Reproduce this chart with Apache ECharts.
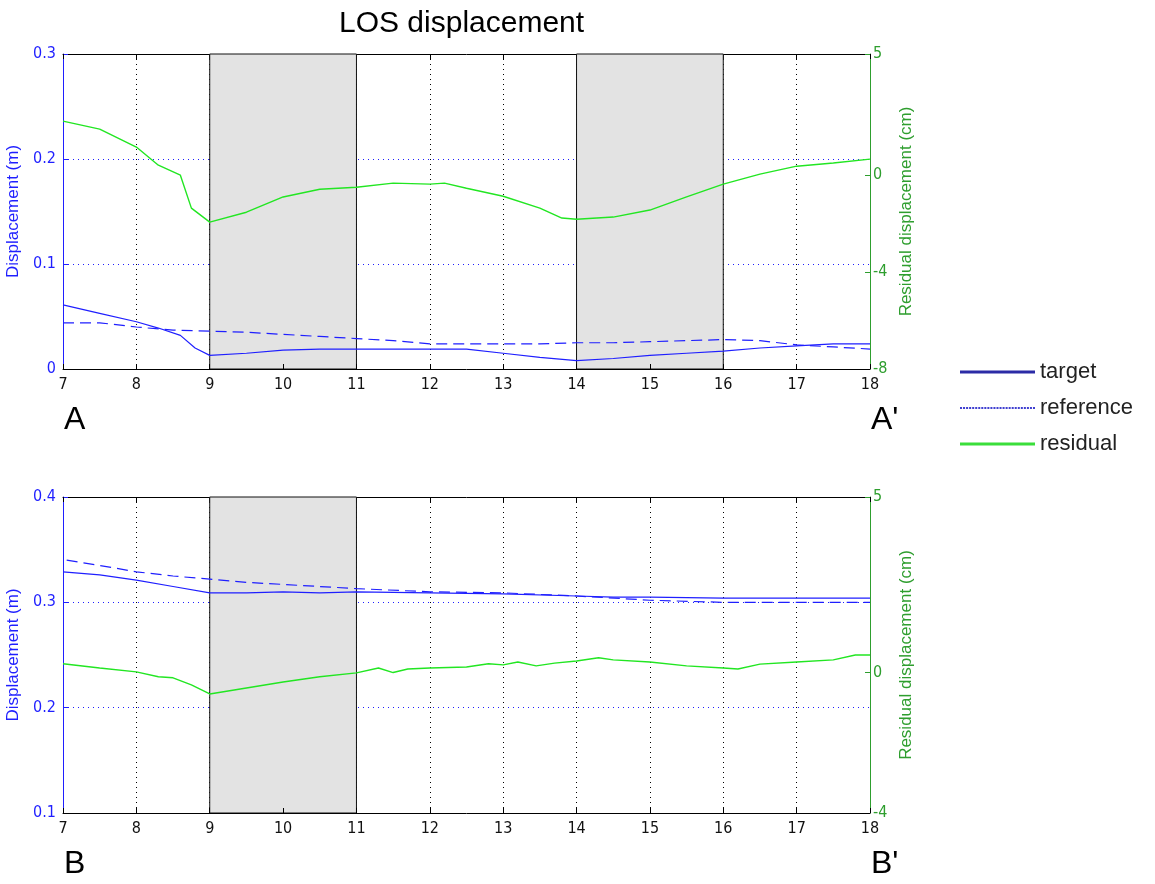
<!DOCTYPE html>
<html>
<head>
<meta charset="utf-8">
<script src="https://cdn.jsdelivr.net/npm/echarts@6/dist/echarts.min.js"></script>
<style>
  html, body { margin: 0; padding: 0; background: #fff; }
  #chart { width: 1155px; height: 884px; }
</style>
</head>
<body>
<div id="chart"></div>
<script>
// top profile A-A'
const topTargetX = [7, 7.5, 8, 8.3, 8.6, 8.8, 9, 9.5, 10, 10.5, 11, 12, 12.5, 13, 13.5, 14, 14.5, 15, 15.5, 16, 16.5, 17, 17.5, 18];
const topTarget = [0.061, 0.053, 0.045, 0.039, 0.032, 0.020, 0.013, 0.015, 0.018, 0.019, 0.019, 0.019, 0.019, 0.015, 0.011, 0.008, 0.010, 0.013, 0.015, 0.017, 0.020, 0.022, 0.024, 0.024];
const topRefX = [7, 7.5, 8, 8.5, 9, 9.5, 10, 10.5, 11, 11.5, 12, 12.5, 13, 13.5, 14, 14.5, 15, 15.5, 16, 16.5, 17, 17.5, 18];
const topRef = [0.044, 0.044, 0.040, 0.037, 0.036, 0.035, 0.033, 0.031, 0.029, 0.027, 0.024, 0.024, 0.024, 0.024, 0.025, 0.025, 0.026, 0.027, 0.028, 0.027, 0.023, 0.021, 0.019];
const topResX = [7, 7.5, 8, 8.3, 8.6, 8.75, 9, 9.5, 10, 10.5, 11, 11.5, 12, 12.2, 12.5, 13, 13.5, 13.8, 14, 14.5, 15, 15.5, 16, 16.5, 17, 17.5, 18];
const topRes = [2.23, 1.9, 1.16, 0.41, 0.0, -1.36, -1.94, -1.53, -0.9, -0.58, -0.5, -0.33, -0.37, -0.33, -0.54, -0.87, -1.36, -1.77, -1.82, -1.73, -1.44, -0.9, -0.37, 0.04, 0.37, 0.5, 0.66];

// bottom profile B-B'
const botTargetX = [7, 7.5, 8, 8.5, 9, 9.5, 10, 10.5, 11, 12, 13, 14, 14.5, 15, 16, 17, 18];
const botTarget = [0.329, 0.326, 0.321, 0.315, 0.309, 0.309, 0.310, 0.309, 0.310, 0.309, 0.308, 0.306, 0.305, 0.305, 0.304, 0.304, 0.304];
const botRefX = [7.05, 7.5, 8, 8.5, 9, 9.5, 10, 10.5, 11, 12, 13, 14, 15, 16, 17, 18];
const botRef = [0.340, 0.335, 0.329, 0.325, 0.322, 0.319, 0.317, 0.315, 0.313, 0.310, 0.309, 0.306, 0.302, 0.300, 0.300, 0.300];
const botResX = [7, 7.5, 8, 8.3, 8.5, 8.75, 9, 9.5, 10, 10.5, 11, 11.3, 11.5, 11.7, 12, 12.5, 12.8, 13, 13.2, 13.45, 13.7, 14, 14.3, 14.5, 15, 15.5, 16, 16.2, 16.5, 17, 17.5, 17.8, 18];
const botRes = [0.25, 0.13, 0.02, -0.12, -0.15, -0.35, -0.61, -0.44, -0.27, -0.12, -0.01, 0.13, 0.0, 0.1, 0.13, 0.16, 0.25, 0.22, 0.3, 0.19, 0.27, 0.33, 0.42, 0.36, 0.30, 0.19, 0.13, 0.1, 0.24, 0.3, 0.36, 0.5, 0.5];

// shaded intervals
const topBands = [[9, 11], [14, 16]];
const botBands = [[9, 11]];

const topRightTicks = [-8, -4, 0, 5];
const botRightTicks = [-4, 0, 5];

const BLUE = "#1f1fff";
const GREEN = "#22e622";
const AXGREEN = "#2e9e2e";
const NARROW = "'Liberation Sans Narrow', 'DejaVu Sans Condensed', 'Liberation Sans', Arial, sans-serif";
const SANS = "'Liberation Sans', Arial, sans-serif";

const zip = (xs, ys) => xs.map((x, i) => [x, ys[i]]);

// dotted legend stroke for "reference"
let dotPath = "path://";
for (let i = 0; i < 75; i += 3) dotPath += "M" + i + ",0h2v2h-2z";

function xAxes(grid) {
  return [
    {
      gridIndex: grid, type: "value", position: "bottom", min: 7, max: 18, interval: 1, z: 3,
      axisLine: { show: true, onZero: false, lineStyle: { color: "#000", width: 1 } },
      axisTick: { show: true, inside: true, length: 5, lineStyle: { color: "#000" } },
      axisLabel: { color: "#111", fontFamily: NARROW, fontSize: 16, margin: 8 },
      splitLine: { show: false },
    },
    {
      gridIndex: grid, type: "value", position: "top", min: 7, max: 18, interval: 1, z: 0,
      axisLine: { show: true, onZero: false, lineStyle: { color: "#000", width: 1 } },
      axisTick: { show: true, inside: true, length: 5, lineStyle: { color: "#000" } },
      axisLabel: { show: false },
      splitLine: { show: true, lineStyle: { color: "#000", type: [1, 4], width: 1 } },
    },
  ];
}

function yAxes(grid, min, max, rmin, rmax, rticks) {
  return [
    {
      gridIndex: grid, type: "value", position: "left", min: min, max: max, interval: 0.1,
      name: "Displacement (m)", nameLocation: "middle", nameGap: 36, nameRotate: 90,
      nameTextStyle: { color: BLUE, fontFamily: SANS, fontSize: 17 },
      axisLine: { show: true, onZero: false, lineStyle: { color: BLUE, width: 1 } },
      axisTick: { show: true, inside: true, length: 5, lineStyle: { color: BLUE } },
      axisLabel: { color: BLUE, fontFamily: NARROW, fontSize: 16, margin: 7, formatter: (v) => (v === 0 ? "0" : v.toFixed(1)) },
      splitLine: { show: true, lineStyle: { color: BLUE, type: [1, 4], width: 1 } },
    },
    {
      gridIndex: grid, type: "value", position: "right", min: rmin, max: rmax,
      name: "Residual displacement (cm)", nameLocation: "middle", nameGap: 26, nameRotate: 90,
      nameTextStyle: { color: AXGREEN, fontFamily: SANS, fontSize: 17 },
      axisLine: { show: true, onZero: false, lineStyle: { color: AXGREEN, width: 1 } },
      axisTick: { show: true, inside: true, length: 5, customValues: rticks, lineStyle: { color: AXGREEN } },
      axisLabel: { color: AXGREEN, fontFamily: NARROW, fontSize: 16, margin: 3, customValues: rticks },
      splitLine: { show: false },
    },
  ];
}

function lineSeries(name, data, xi, yi, style) {
  return {
    name: name, type: "line", xAxisIndex: xi, yAxisIndex: yi, data: data,
    showSymbol: false, symbol: "none", z: 4, animation: false,
    lineStyle: style,
  };
}

function bandSeries(xi, yi, bands) {
  return {
    type: "line", xAxisIndex: xi, yAxisIndex: yi, data: [], z: 1, silent: true,
    markArea: {
      silent: true,
      itemStyle: { color: "#e3e3e3", borderColor: "#111", borderWidth: 1 },
      data: bands.map((b) => [{ xAxis: b[0] }, { xAxis: b[1] }]),
    },
  };
}

const targetStyle = { color: BLUE, width: 1.2, type: "solid" };
const refStyle = { color: BLUE, width: 1.2, type: [11, 6] };
const resStyle = { color: GREEN, width: 1.4, type: "solid" };

const option = {
  backgroundColor: "#fff",
  animation: false,
  title: {
    text: "LOS displacement", left: 334, top: 4,
    textStyle: { fontFamily: SANS, fontSize: 30, fontWeight: "normal", color: "#000" },
  },
  grid: [
    { left: 63, top: 54, width: 807, height: 315, outerBoundsMode: "none", containLabel: false },
    { left: 63, top: 497, width: 807, height: 316, outerBoundsMode: "none", containLabel: false },
  ],
  xAxis: [...xAxes(0), ...xAxes(1)],
  yAxis: [...yAxes(0, 0, 0.3, -8, 5, topRightTicks), ...yAxes(1, 0.1, 0.4, -4, 5, botRightTicks)],
  legend: {
    orient: "vertical", left: 955, top: 356, itemWidth: 75, itemHeight: 22, itemGap: 14,
    textStyle: { fontFamily: SANS, fontSize: 22, color: "#222" },
    data: [
      { name: "target", icon: "path://M0,0L75,0L75,3L0,3Z", itemStyle: { color: "#2b2ba6" } },
      { name: "reference", icon: dotPath, itemStyle: { color: "#4040d0" } },
      { name: "residual", icon: "path://M0,0L75,0L75,3L0,3Z", itemStyle: { color: "#3ade3a" } },
    ],
  },
  graphic: [
    { type: "text", left: 64, top: 404, style: { text: "A", font: "32px " + SANS, fill: "#000" } },
    { type: "text", left: 871, top: 404, style: { text: "A'", font: "32px " + SANS, fill: "#000" } },
    { type: "text", left: 64, top: 848, style: { text: "B", font: "32px " + SANS, fill: "#000" } },
    { type: "text", left: 871, top: 848, style: { text: "B'", font: "32px " + SANS, fill: "#000" } },
  ],
  series: [
    bandSeries(1, 0, topBands),
    bandSeries(3, 2, botBands),
    lineSeries("target", zip(topTargetX, topTarget), 0, 0, targetStyle),
    lineSeries("reference", zip(topRefX, topRef), 0, 0, refStyle),
    lineSeries("residual", zip(topResX, topRes), 0, 1, resStyle),
    lineSeries("target", zip(botTargetX, botTarget), 2, 2, targetStyle),
    lineSeries("reference", zip(botRefX, botRef), 2, 2, refStyle),
    lineSeries("residual", zip(botResX, botRes), 2, 3, resStyle),
  ],
};

const chart = echarts.init(document.getElementById("chart"), null, { renderer: "canvas" });
chart.setOption(option);
window.addEventListener("resize", () => chart.resize());
</script>
</body>
</html>
